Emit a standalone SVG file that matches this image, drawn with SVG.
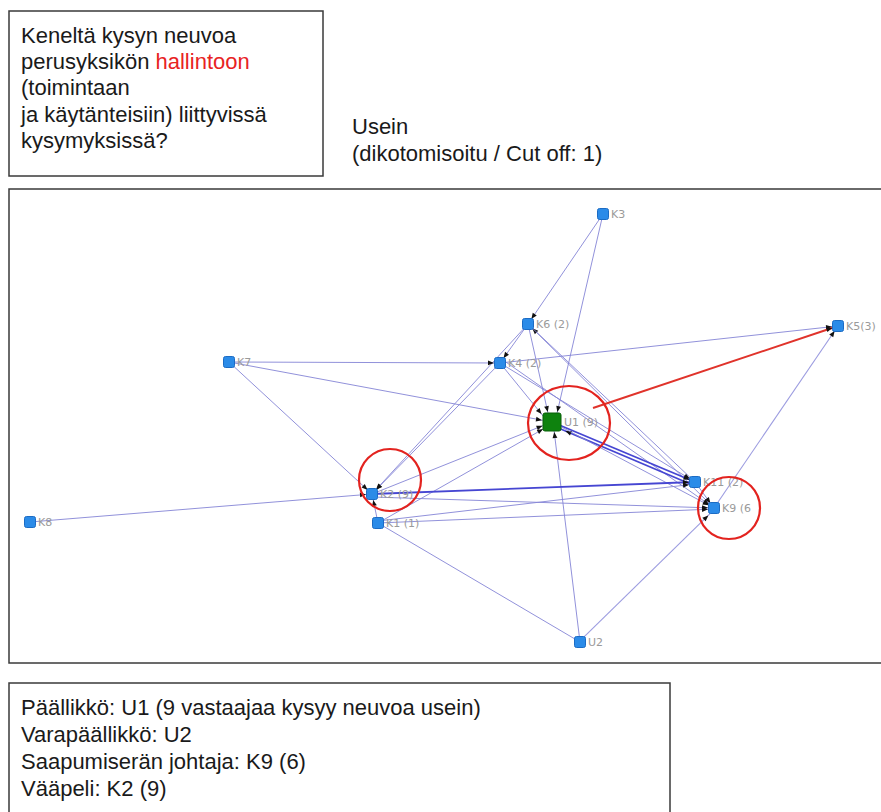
<svg xmlns="http://www.w3.org/2000/svg" width="881" height="812" viewBox="0 0 881 812">
<defs>
<style>
.box{fill:#fff;stroke:#3a3a3a;stroke-width:1.5}
.t{font-family:"Liberation Sans",Arial,sans-serif;font-size:22px;fill:#1a1a1a}
.lbl{font-family:"DejaVu Sans",Verdana,sans-serif;font-size:11px;fill:#9a9a9a}
.e{stroke:#8585d6;stroke-width:1;fill:none;stroke-opacity:0.9}
.el{stroke:#9c9ce0;stroke-width:1.1;fill:none}
.ed{stroke:#4646d2;stroke-width:1.8;fill:none}
.er{stroke:#e0332b;stroke-width:2;fill:none}
.n{fill:#2b8be8;stroke:#1c6cc4;stroke-width:1}
.u{fill:#0e820e;stroke:#075e07;stroke-width:1}
.c{fill:none;stroke:#e3231f;stroke-width:2.2}
</style>
<marker id="a" viewBox="0 0 10 10" refX="20" refY="5" markerWidth="6" markerHeight="6" markerUnits="userSpaceOnUse" orient="auto" overflow="visible"><path d="M0,1 L10,5 L0,9 z" fill="#111"/></marker>
<marker id="b" viewBox="0 0 10 10" refX="27" refY="5" markerWidth="6" markerHeight="6" markerUnits="userSpaceOnUse" orient="auto" overflow="visible"><path d="M0,1 L10,5 L0,9 z" fill="#111"/></marker>
</defs>
<rect width="881" height="812" fill="#fff"/>

<g id="question">
<rect class="box" x="9" y="11" width="314" height="165"/>
<text class="t" x="21" y="43">Keneltä kysyn neuvoa</text>
<text class="t" x="21" y="69">perusyksikön <tspan fill="#e8231f">hallintoon</tspan></text>
<text class="t" x="21" y="95">(toimintaan</text>
<text class="t" x="21" y="122">ja käytänteisiin) liittyvissä</text>
<text class="t" x="21" y="148">kysymyksissä?</text>
</g>
<g id="subtitle">
<text class="t" x="352" y="134">Usein</text>
<text class="t" x="352" y="161">(dikotomisoitu / Cut off: 1)</text>
</g>

<g id="network-frame"><rect class="box" x="9" y="189" width="890" height="474"/></g>

<g id="connectors">
<line class="e" x1="603" y1="214" x2="528" y2="324" marker-end="url(#a)"/>
<line class="e" x1="603" y1="214" x2="555" y2="422" marker-end="url(#b)"/>
<line class="e" x1="528" y1="324" x2="500" y2="363" marker-end="url(#a)"/>
<line class="e" x1="528" y1="324" x2="372" y2="494" marker-end="url(#a)"/>
<line class="e" x1="500" y1="363" x2="372" y2="494" marker-end="url(#a)"/>
<line class="e" x1="528" y1="324" x2="550" y2="422" marker-end="url(#b)"/>
<line class="e" x1="714" y1="508" x2="528" y2="324" marker-end="url(#a)"/>
<line class="e" x1="528" y1="324" x2="695" y2="482"/>
<line class="e" x1="229" y1="362" x2="500" y2="363" marker-end="url(#a)"/>
<line class="e" x1="229" y1="362" x2="552" y2="422" marker-end="url(#b)"/>
<line class="e" x1="229" y1="362" x2="372" y2="494" marker-end="url(#a)"/>
<line class="e" x1="500" y1="363" x2="838" y2="326" marker-end="url(#a)"/>
<line class="e" x1="500" y1="363" x2="548" y2="422" marker-end="url(#b)"/>
<line class="e" x1="500" y1="363" x2="695" y2="482" marker-end="url(#a)"/>
<line class="e" x1="503" y1="360" x2="714" y2="508" marker-end="url(#a)"/>
<line class="ed" x1="552" y1="422" x2="695" y2="482" marker-end="url(#a)"/>
<line class="ed" x1="695" y1="486" x2="556" y2="427" marker-end="url(#b)"/>
<line class="e" x1="552" y1="422" x2="714" y2="508" marker-end="url(#a)"/>
<line class="e" x1="372" y1="494" x2="552" y2="422" marker-end="url(#b)"/>
<line class="e" x1="378" y1="523" x2="552" y2="424" marker-end="url(#b)"/>
<line class="e" x1="580" y1="642" x2="553" y2="422" marker-end="url(#b)"/>
<line class="ed" x1="372" y1="494" x2="695" y2="482" marker-end="url(#a)"/>
<line class="e" x1="372" y1="497" x2="714" y2="508" marker-end="url(#a)"/>
<line class="e" x1="30" y1="522" x2="372" y2="494" marker-end="url(#a)"/>
<line class="e" x1="378" y1="523" x2="372" y2="494" marker-end="url(#a)"/>
<line class="e" x1="378" y1="521" x2="695" y2="484" marker-end="url(#a)"/>
<line class="e" x1="378" y1="523" x2="714" y2="509" marker-end="url(#a)"/>
<line class="e" x1="378" y1="523" x2="580" y2="642"/>
<path class="el" d="M583.3,637.6 L712.6,511.2" marker-end="url(#a)"/>
<line class="el" x1="714" y1="508" x2="838" y2="326" marker-end="url(#a)"/>
<line class="e" x1="695" y1="482" x2="714" y2="508" marker-end="url(#a)"/>
<line class="er" x1="593" y1="408" x2="838" y2="326" marker-end="url(#a)"/>
</g>

<g id="K3"><rect class="n" x="597.5" y="208.5" width="11" height="11" rx="2"/><text class="lbl" x="611" y="218">K3</text></g>
<g id="K6"><rect class="n" x="522.5" y="318.5" width="11" height="11" rx="2"/><text class="lbl" x="536" y="328">K6 (2)</text></g>
<g id="K5"><rect class="n" x="832.5" y="320.5" width="11" height="11" rx="2"/><text class="lbl" x="846" y="330">K5(3)</text></g>
<g id="K7"><rect class="n" x="223.5" y="356.5" width="11" height="11" rx="2"/><text class="lbl" x="237" y="366">K7</text></g>
<g id="K4"><rect class="n" x="494.5" y="357.5" width="11" height="11" rx="2"/><text class="lbl" x="508" y="367">K4 (2)</text></g>
<g id="U1"><rect class="u" x="543" y="413" width="18" height="18" rx="2"/><text class="lbl" x="564" y="426">U1 (9)</text></g>
<g id="K11"><rect class="n" x="689.5" y="476.5" width="11" height="11" rx="2"/><text class="lbl" x="703" y="486">K11 (2)</text></g>
<g id="K2"><rect class="n" x="366.5" y="488.5" width="11" height="11" rx="2"/><text class="lbl" x="380" y="498">K2 (9)</text></g>
<g id="K8"><rect class="n" x="24.5" y="516.5" width="11" height="11" rx="2"/><text class="lbl" x="38" y="526">K8</text></g>
<g id="K1"><rect class="n" x="372.5" y="517.5" width="11" height="11" rx="2"/><text class="lbl" x="386" y="527">K1 (1)</text></g>
<g id="K9"><rect class="n" x="708.5" y="502.5" width="11" height="11" rx="2"/><text class="lbl" x="722" y="512">K9 (6</text></g>
<g id="U2"><rect class="n" x="574.5" y="636.5" width="11" height="11" rx="2"/><text class="lbl" x="588" y="646">U2</text></g>

<g id="highlights">
<ellipse class="c" cx="569" cy="423" rx="41" ry="37"/>
<circle class="c" cx="390" cy="480" r="31"/>
<ellipse class="c" cx="729" cy="508" rx="31" ry="31"/>
</g>

<g id="legend">
<rect class="box" x="9" y="683" width="661" height="140"/>
<text class="t" x="21" y="715">Päällikkö: U1 (9 vastaajaa kysyy neuvoa usein)</text>
<text class="t" x="21" y="742">Varapäällikkö: U2</text>
<text class="t" x="21" y="769">Saapumiserän johtaja: K9 (6)</text>
<text class="t" x="21" y="796">Vääpeli: K2 (9)</text>
</g>
</svg>
